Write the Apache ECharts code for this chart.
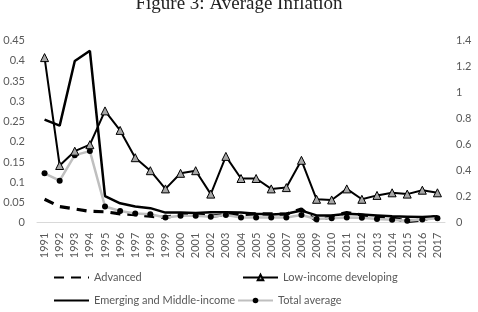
<!DOCTYPE html>
<html><head><meta charset="utf-8">
<script src="https://cdn.jsdelivr.net/npm/echarts@6/dist/echarts.min.js"></script>
<style>html,body{margin:0;padding:0;background:#fff}#c{width:478px;height:312px}</style>
</head><body><div id="c"></div>
<script>
var years = ['1991','1992','1993','1994','1995','1996','1997','1998','1999','2000','2001','2002','2003','2004','2005','2006','2007','2008','2009','2010','2011','2012','2013','2014','2015','2016','2017'];
var advanced = [0.058,0.040,0.034,0.028,0.027,0.022,0.020,0.016,0.013,0.020,0.022,0.016,0.020,0.020,0.022,0.022,0.021,0.034,0.004,0.016,0.025,0.019,0.013,0.012,0.003,0.007,0.017];
var emerging = [0.255,0.240,0.400,0.425,0.066,0.048,0.040,0.036,0.025,0.025,0.024,0.026,0.026,0.025,0.022,0.020,0.022,0.030,0.018,0.018,0.022,0.020,0.018,0.016,0.015,0.014,0.016];
var lowIncome = [1.27,0.44,0.55,0.60,0.86,0.71,0.50,0.40,0.26,0.38,0.40,0.22,0.51,0.34,0.34,0.26,0.27,0.48,0.18,0.175,0.26,0.18,0.21,0.23,0.22,0.25,0.23];
var totalAvg = [0.122,0.104,0.167,0.177,0.040,0.029,0.023,0.021,0.013,0.017,0.017,0.015,0.019,0.013,0.013,0.013,0.013,0.019,0.009,0.011,0.013,0.012,0.009,0.007,0.005,0.008,0.011];
var leftTicks = {min:0, max:0.45, interval:0.05};
var rightTicks = {min:0, max:1.4, interval:0.2};

var F = 'Lato, "Open Sans", sans-serif';
var gray = '#595959';
var chart = echarts.init(document.getElementById('c'), null, {renderer:'canvas'});
function leg(name, left, top, hideMarker){
  var item = {name:name};
  if (hideMarker) item.itemStyle = {opacity:0};
  return {data:[item], left:left, top:top, itemWidth:35, itemHeight:7, padding:0, itemGap:4,
    textStyle:{color:gray, fontFamily:F, fontSize:11}};
}
chart.setOption({
  animation:false,
  title:{text:'Figure 3: Average Inflation', left:'center', top:-10,
    textStyle:{fontFamily:'"Liberation Serif", serif', fontWeight:'normal', fontSize:19, color:'#222'}},
  grid:{left:37, right:33, top:40.7, bottom:89.3},
  legend:[leg('Advanced',53,272,true), leg('Low-income developing',242,272,false),
          leg('Emerging and Middle-income',53,295,true), leg('Total average',237,295,false)],
  xAxis:{type:'category', data:years, boundaryGap:true,
    axisLine:{lineStyle:{color:'#d9d9d9'}}, axisTick:{show:false},
    axisLabel:{rotate:90, color:gray, fontFamily:F, fontSize:11, margin:10, interval:0}},
  yAxis:[
    {type:'value', min:leftTicks.min, max:leftTicks.max, interval:leftTicks.interval,
     splitLine:{show:false}, axisLine:{show:false}, axisTick:{show:false},
     axisLabel:{color:gray, fontFamily:F, fontSize:11, margin:12}},
    {type:'value', min:rightTicks.min, max:rightTicks.max, interval:rightTicks.interval,
     splitLine:{show:false}, axisLine:{show:false}, axisTick:{show:false},
     axisLabel:{color:gray, fontFamily:F, fontSize:11, margin:11}}
  ],
  series:[
    {name:'Advanced', type:'line', data:advanced, yAxisIndex:0, symbol:'none',
     lineStyle:{color:'#000', width:3.2, type:[10,7]}, itemStyle:{color:'#000'}},
    {name:'Emerging and Middle-income', type:'line', data:emerging, yAxisIndex:0, symbol:'none',
     lineStyle:{color:'#000', width:2.5}, itemStyle:{color:'#000'}},
    {name:'Total average', type:'line', data:totalAvg, yAxisIndex:0, symbol:'circle', symbolSize:6,
     lineStyle:{color:'#bfbfbf', width:2.5}, itemStyle:{color:'#000'}},
    {name:'Low-income developing', type:'line', data:lowIncome, yAxisIndex:1, symbol:'triangle', symbolSize:8,
     lineStyle:{color:'#000', width:2}, itemStyle:{color:'#a6a6a6', borderColor:'#000', borderWidth:1}}
  ]
});
</script></body></html>
